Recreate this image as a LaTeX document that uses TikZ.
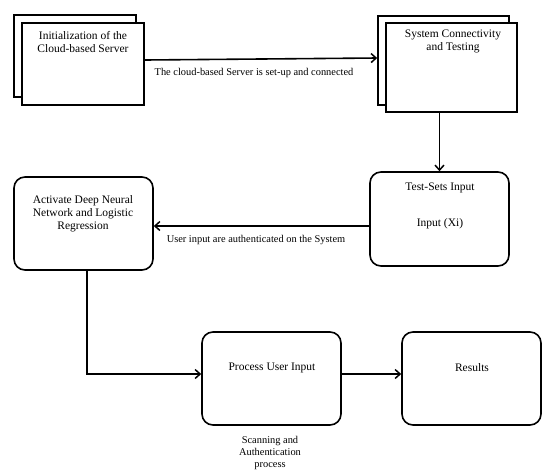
\documentclass[tikz,border=0pt]{standalone}
\usepackage{fontspec}
\setmainfont{Liberation Serif}
\usetikzlibrary{arrows.meta}
\begin{document}
\begin{tikzpicture}[x=1pt,y=-1pt,
  box/.style={draw=black,line width=1.6pt,fill=white,inner sep=0pt},
  rbox/.style={box,rounded corners=11pt},
  btext/.style={font=\fontsize{11.5}{13}\selectfont,align=center,inner sep=0pt},
  ltext/.style={font=\fontsize{10.4}{12}\selectfont,align=center,inner sep=0pt},
  arr/.style={draw=black,line width=1.6pt,-{Straight Barb[length=5pt,width=9pt,line width=1.5pt]}}]
\useasboundingbox (0,0) rectangle (550,475);
% box 1
\node[box,minimum width=122pt,minimum height=82pt] (b1) at (75,56) {};
\node[box,minimum width=122pt,minimum height=82pt] (f1) at (83,64) {};
\node[btext] (t1) at (83,42) {Initialization of the\\Cloud-based Server};
% box 2
\node[box,minimum width=131pt,minimum height=89pt] (b2) at (443.5,60.5) {};
\node[box,minimum width=131pt,minimum height=89pt] (f2) at (451.5,67.5) {};
\node[btext] (t2) at (453,41) {System Connectivity\\and Testing};
% box 3
\node[rbox,minimum width=139pt,minimum height=94pt] (b3) at (439.5,219) {};
\node[btext] (t3a) at (440,188) {Test-Sets Input};
\node[btext] (t3b) at (440,224) {Input (Xi)};
% box 4
\node[rbox,minimum width=139pt,minimum height=93pt] (b4) at (83.5,223.5) {};
\node[btext] (t4) at (83,214) {Activate Deep Neural\\Network and Logistic\\Regression};
% box 5
\node[rbox,minimum width=139pt,minimum height=93pt] (b5) at (271.5,378.5) {};
\node[btext] (t5) at (272,368) {Process User Input};
% box 6
\node[rbox,minimum width=139pt,minimum height=93pt] (b6) at (471.5,378.5) {};
\node[btext] (t6) at (472,368) {Results};
% labels
\node[ltext] (l1) at (254,73) {The cloud-based Server is set-up and connected};
\node[ltext] (l2) at (256,240) {User input are authenticated on the System};
\node[ltext] (l3) at (270,453) {Scanning and\\Authentication\\process};
% connectors
\draw[arr] ([yshift=4pt]f1.east) -- ([yshift=2.5pt]b2.west);
\draw[arr] (f2.south -| b3.north) -- (b3.north);
\draw[arr] ([yshift=-7pt]b3.west) -- ([yshift=-2.5pt]b4.east);
\draw[arr] ([xshift=3.5pt]b4.south) |- ([yshift=4.5pt]b5.west);
\draw[arr] ([yshift=4.5pt]b5.east) -- ([yshift=4.5pt]b6.west);
\end{tikzpicture}
\end{document}
